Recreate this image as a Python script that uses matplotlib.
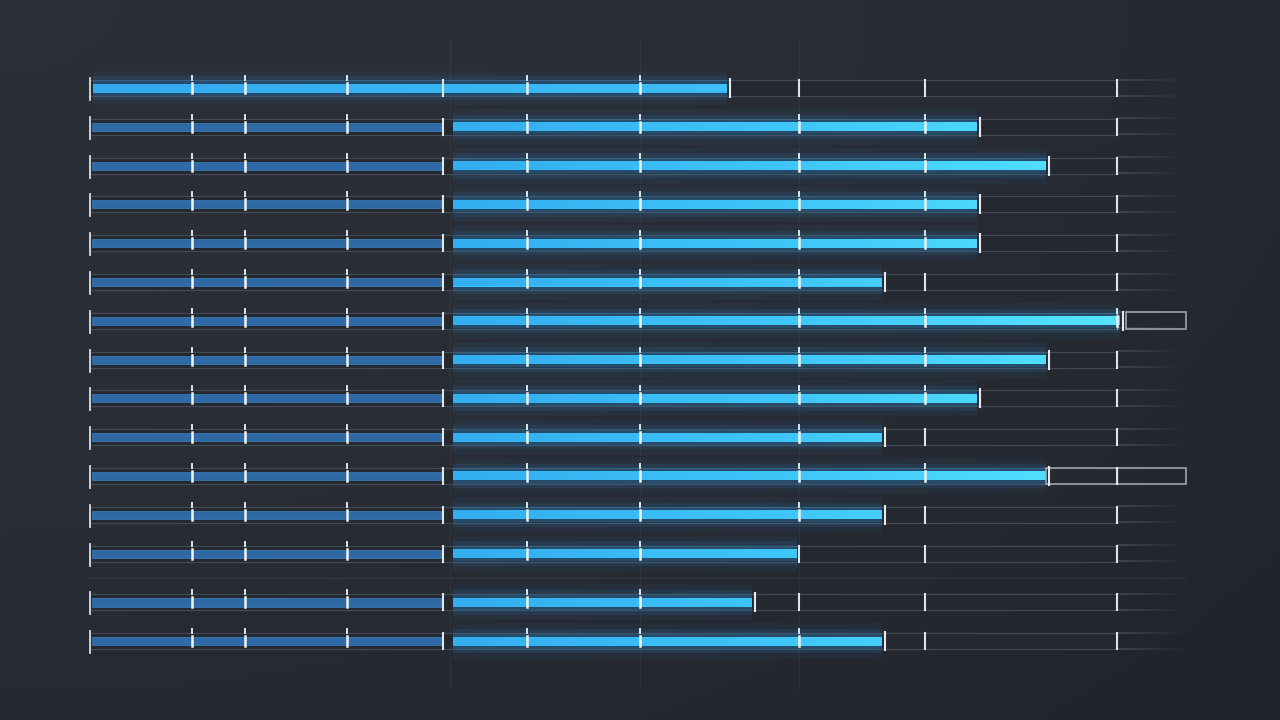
import numpy as np
import matplotlib
matplotlib.use("Agg")
import matplotlib.pyplot as plt
from matplotlib.colors import LinearSegmentedColormap

# ---------------- data ----------------
rows = list(range(15))
lead_value = 637                      # first row: single bar
base_value = 351                      # dim baseline segment (rows 1..14)
bright_start = 363
bright_end = [887, 956, 887, 887, 792, 1030, 956, 887, 792, 956, 792, 707, 662, 792]
track_end = 1027
track_ext = 1096
tick_values = [0, 102, 155, 257, 353, 437, 550, 709, 835, 1027]
divider_value = 353
highlight_rows = {6: 1036, 10: 956}   # row -> start of highlighted outline box

# ---------------- style ----------------
BG = "#292d36"
DIM = "#2f6aa6"
TRACK_EDGE = "#434953"
TRACK_FACE = "#24282f"
GRAD = LinearSegmentedColormap.from_list("g", ["#33aef0", "#3fc6f8", "#55e4ff"])
LEAD = LinearSegmentedColormap.from_list("l", ["#34a9ee", "#3ebff7"])

fig = plt.figure(figsize=(12.8, 7.2), dpi=100)
fig.patch.set_facecolor(BG)
ax = fig.add_axes([0, 0, 1, 1])
ax.set_xlim(-90, 1190)
row_gap = 38.8
Y0, Y1 = (720 - 88) / row_gap, -88 / row_gap
ax.set_ylim(Y0, Y1)
ax.axis("off")

# background vignette
yy, xx = np.mgrid[0:1:200j, 0:1:360j]
vign = 0.3 * (xx ** 2) + 0.25 * (yy ** 2)
bgcmap = LinearSegmentedColormap.from_list("bg", ["#2b2f38", "#1f2228"])
ax.imshow(vign, extent=(-90, 1190, Y0, Y1), cmap=bgcmap, vmin=0, vmax=0.6,
          aspect="auto", zorder=0)

# fade for the track extension
fade = LinearSegmentedColormap.from_list("f", [(0.26, 0.29, 0.33, 0.9), (0.26, 0.29, 0.33, 0.0)])


def ypos(i):
    return i + (0.26 if i >= 13 else 0)


px = 1 / row_gap
BH = 9 * px
TH = 16 * px

# faint vertical guide lines
for gx in [360, 550, 709]:
    ax.plot([gx, gx], [-1.3, 15.5], color="#ffffff", alpha=0.035, lw=1, zorder=1)
# faint separator
ax.plot([0, track_ext], [12.63, 12.63], color="#ffffff", alpha=0.06, lw=1, zorder=1)

for i in rows:
    y = ypos(i)
    # track outline
    ax.barh(y, track_end, left=0, height=TH, color=TRACK_FACE, edgecolor=TRACK_EDGE,
            lw=0.9, zorder=2)
    # faded extension (top and bottom edges fading out)
    for ey in (y - TH / 2, y + TH / 2):
        ax.imshow(np.linspace(0, 1, 64)[None, :], extent=(track_end, track_ext, ey + 0.6 * px, ey - 0.6 * px),
                  cmap=fade, aspect="auto", zorder=2)

    if i == 0:
        end = lead_value
        for k, a in [(3.8, 0.06), (2.6, 0.11), (1.7, 0.20)]:
            ax.barh(y, end - 3, left=3, height=BH * k, color="#2b8fe0", alpha=a, lw=0, zorder=3)
        b = ax.barh(y, end - 3, left=3, height=BH, color="#36b0f0", lw=0, zorder=4)
        im = ax.imshow(np.linspace(0, 1, 100)[None, :], extent=(3, end, y + BH / 2, y - BH / 2),
                       cmap=LEAD, aspect="auto", zorder=5)
        im.set_clip_path(b.patches[0])
    else:
        end = bright_end[i - 1]
        ax.barh(y, base_value - 2, left=2, height=BH * 0.9, color=DIM, edgecolor="#3a78b4",
                lw=0.6, zorder=3)
        for k, a in [(4.0, 0.06), (2.7, 0.11), (1.7, 0.20)]:
            ax.barh(y, end - bright_start, left=bright_start, height=BH * k,
                    color="#2a9aea", alpha=a, lw=0, zorder=3)
        b = ax.barh(y, end - bright_start, left=bright_start, height=BH,
                    color="#3fc6f8", lw=0, zorder=4)
        im = ax.imshow(np.linspace(0, 1, 256)[None, :],
                       extent=(bright_start, track_end, y + BH / 2, y - BH / 2),
                       cmap=GRAD, aspect="auto", zorder=5)
        im.set_clip_path(b.patches[0])

    # highlighted outline box
    if i in highlight_rows:
        hs = highlight_rows[i]
        ax.barh(y, track_ext - hs, left=hs, height=TH * 1.05, color="none",
                edgecolor="#9aa4ae", lw=1.2, zorder=6)
        ax.plot([track_end, track_end], [y - TH / 2, y + TH / 2], color="#9aa4ae", lw=1.0, zorder=6)

    # ticks
    for t in tick_values:
        on_bar = (i == 0 and 0 < t < end) or (i > 0 and (0 < t < base_value or bright_start < t < end))
        if t == 0:
            ax.plot([t, t], [y - 10 * px, y + 12 * px], color="#d8dde2", lw=1.3, zorder=7)
        elif on_bar and t != divider_value:
            ax.plot([t, t], [y - 5 * px, y + 5 * px], color="#eef3f6", lw=1.8, zorder=7)
            ax.plot([t, t], [y - 12 * px, y - 8 * px], color="#dfe5ea", lw=1.4, zorder=7)
        else:
            ax.plot([t, t], [y - 8 * px, y + 8 * px], color="#dfe4e8", lw=1.5, zorder=7)
    # end tick for bar (unless it coincides with a tick)
    if min(abs(end + 3 - t) for t in tick_values) > 4:
        ax.plot([end + 3, end + 3], [y - 9 * px, y + 9 * px], color="#e6eaee", lw=1.5, zorder=7)

fig.savefig("out.png", dpi=100, facecolor=BG)
